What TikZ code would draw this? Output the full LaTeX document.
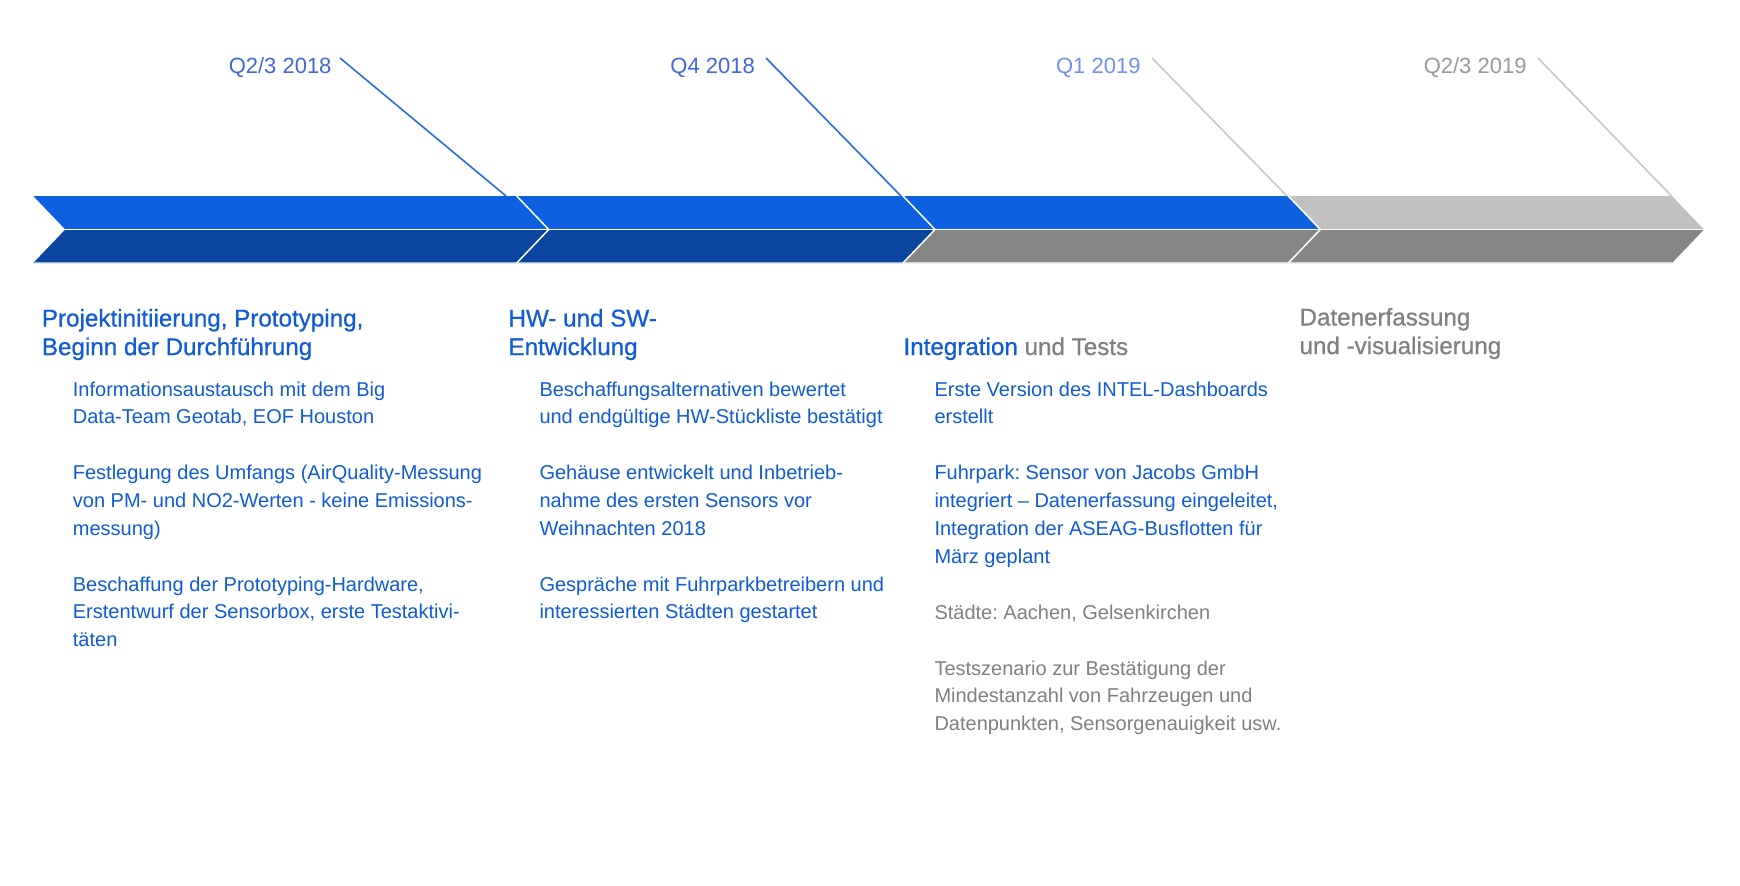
\documentclass[tikz,border=0pt]{standalone}
\usepackage{fontspec}
\setmainfont{Liberation Sans}
\newfontfamily\headfont[FakeBold=0.6]{Liberation Sans}
\frenchspacing
\definecolor{barblue}{HTML}{0D60DF}
\definecolor{bardark}{HTML}{0A45A0}
\definecolor{barlight}{HTML}{C1C1C1}
\definecolor{bargray}{HTML}{868686}
\definecolor{txtblue}{HTML}{0F5BD8}
\definecolor{txtgray}{HTML}{808080}
\definecolor{lineblue}{HTML}{2A6BE6}
\definecolor{linegray}{HTML}{C8C8C8}
\definecolor{dateblue}{HTML}{4466DD}
\definecolor{datelight}{HTML}{7390F0}
\definecolor{dategray}{HTML}{9A9A9A}
\definecolor{edgeblue}{HTML}{9AB0DC}
\definecolor{edgegray}{HTML}{D0D0D0}
\begin{document}
\frenchspacing
\begin{tikzpicture}[x=1pt,y=-1pt,
  body/.style={anchor=base west, inner sep=0pt, align=left, text=txtblue,
    font=\frenchspacing\fontsize{20}{27.9}\selectfont},
  bodygray/.style={body, text=txtgray},
  head/.style={anchor=base west, inner sep=0pt, align=left, text=txtblue,
    font=\headfont\fontsize{24.2}{28.6}\selectfont},
  headgray/.style={head, text=txtgray},
  date/.style={anchor=base east, inner sep=0pt, font=\fontsize{22}{26}\selectfont},
  tline/.style={line width=1.6pt, draw=lineblue},
  tlinegray/.style={line width=1.6pt, draw=linegray},
  sepline/.style={line width=1.8pt, draw=white},
]
\useasboundingbox[fill=white] (0,0) rectangle (1740,886);

% bar geometry
\def\yt{196}\def\ym{229.5}\def\yb{263}\def\dd{32}
\def\bA{33.3}\def\bB{516.7}\def\bC{903}\def\bD{1288.3}\def\bE{1672}

% top row
\fill[barblue] (\bA,\yt) -- (\bB,\yt) -- (\bB+\dd,\ym) -- (\bA+\dd,\ym) -- cycle;
\fill[barblue] (\bB,\yt) -- (\bC,\yt) -- (\bC+\dd,\ym) -- (\bB+\dd,\ym) -- cycle;
\fill[barblue] (\bC,\yt) -- (\bD,\yt) -- (\bD+\dd,\ym) -- (\bC+\dd,\ym) -- cycle;
\fill[barlight] (\bD,\yt) -- (\bE,\yt) -- (\bE+\dd,\ym) -- (\bD+\dd,\ym) -- cycle;
% bottom row
\fill[bardark] (\bA+\dd,\ym) -- (\bB+\dd,\ym) -- (\bB,\yb) -- (\bA,\yb) -- cycle;
\fill[bardark] (\bB+\dd,\ym) -- (\bC+\dd,\ym) -- (\bC,\yb) -- (\bB,\yb) -- cycle;
\fill[bargray] (\bC+\dd,\ym) -- (\bD+\dd,\ym) -- (\bD,\yb) -- (\bC,\yb) -- cycle;
\fill[bargray] (\bD+\dd,\ym) -- (\bE+\dd,\ym) -- (\bE,\yb) -- (\bD,\yb) -- cycle;
% bottom edges
\draw[line width=1.5pt, draw=edgeblue] (\bA,\yb-0.5) -- (\bC,\yb-0.5);
\draw[line width=1.5pt, draw=edgegray] (\bC,\yb-0.5) -- (\bE,\yb-0.5);
% separators
\draw[sepline] (\bA+\dd,\ym) -- (\bE+\dd,\ym);
\draw[line width=1.5pt, draw=white] (\bB,\yt) -- (\bB+\dd,\ym) -- (\bB,\yb);
\draw[line width=1.5pt, draw=white] (\bC,\yt) -- (\bC+\dd,\ym) -- (\bC,\yb);
\draw[line width=1.5pt, draw=white] (\bD,\yt) -- (\bD+\dd,\ym) -- (\bD,\yb);

% date labels
\node[date, text=dateblue] (d1) at (331.7,73.3) {Q2/3 2018};
\node[date, text=dateblue] (d2) at (755,73.3) {Q4 2018};
\node[date, text=datelight] (d3) at (1140.7,73.3) {Q1 2019};
\node[date, text=dategray] (d4) at (1526.7,73.3) {Q2/3 2019};

% timeline lines
\coordinate (l1s) at (340,58);   \coordinate (l1e) at (506,196);
\coordinate (l2s) at (766,58);   \coordinate (l2e) at (901,196);
\coordinate (l3s) at (1152,58);  \coordinate (l3e) at (1287,196);
\coordinate (l4s) at (1538,58);  \coordinate (l4e) at (1671.5,196);
\draw[tline] (l1s) -- (l1e);
\draw[tline] (l2s) -- (l2e);
\draw[tlinegray] (l3s) -- (l3e);
\draw[tlinegray] (l4s) -- (l4e);

% headings (anchor = baseline of last line)
\node[head] (h1) at (41.7,355.1) {Projektinitiierung, Prototyping,\\Beginn der Durchführung};
\node[head] (h2) at (508.3,355.1) {HW- und SW-\\Entwicklung};
\node[head] (h3) at (903.3,355) {Integration \textcolor{txtgray}{und Tests}};
\node[headgray] (h4) at (1299.3,354.1) {Datenerfassung\\und -visualisierung};

% column 1
\node[body] (i11) at (72.7,423.9) {Informationsaustausch mit dem Big\\Data-Team Geotab, EOF Houston};
\node[body] (i12) at (72.7,535.1) {Festlegung des Umfangs (AirQuality-Messung\\von PM- und NO2-Werten - keine Emissions-\\messung)};
\node[body] (i13) at (72.7,646.8) {Beschaffung der Prototyping-Hardware,\\Erstentwurf der Sensorbox, erste Testaktivi-\\täten};

% column 2
\node[body] (i21) at (539.3,423.9) {Beschaffungsalternativen bewertet\\und endgültige HW-Stückliste bestätigt};
\node[body] (i22) at (539.3,535.1) {Gehäuse entwickelt und Inbetrieb-\\nahme des ersten Sensors vor\\Weihnachten 2018};
\node[body] (i23) at (539.3,618.9) {Gespräche mit Fuhrparkbetreibern und\\interessierten Städten gestartet};

% column 3
\node[body] (i31) at (934.3,423.9) {Erste Version des INTEL-Dashboards\\erstellt};
\node[body] (i32) at (934.3,563) {Fuhrpark: Sensor von Jacobs GmbH\\integriert – Datenerfassung eingeleitet,\\Integration der ASEAG-Busflotten für\\März geplant};
\node[bodygray] (i33) at (934.3,619.3) {Städte: Aachen, Gelsenkirchen};
\node[bodygray] (i34) at (934.3,730.8) {Testszenario zur Bestätigung der\\Mindestanzahl von Fahrzeugen und\\Datenpunkten, Sensorgenauigkeit usw.};
\end{tikzpicture}
\end{document}
